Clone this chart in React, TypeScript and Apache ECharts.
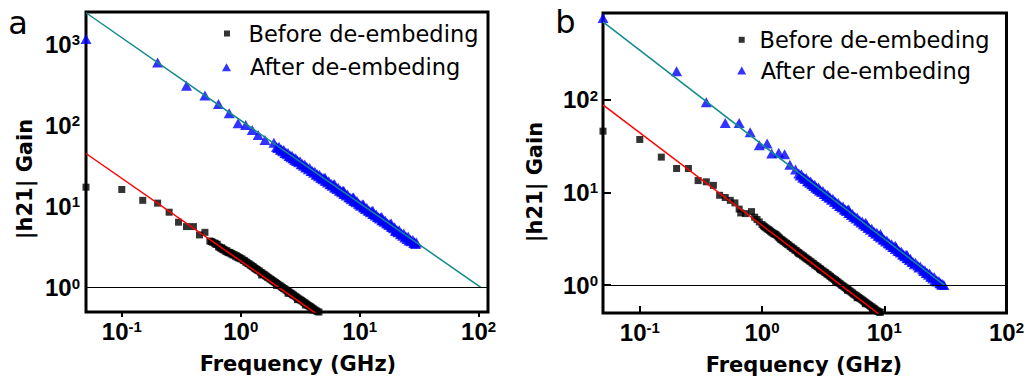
import React, { useEffect, useRef } from 'react';
import * as echarts from 'echarts';

const NAME_BEFORE = 'Before de-embeding';
const NAME_AFTER = 'After de-embeding';

// Panel a: [frequency GHz, |h21|]
const beforeA: number[][] = [
  [0.05, 17.3], [0.1, 16.2], [0.15, 11.9], [0.2, 11], [0.25, 8.5], [0.3, 6.4], [0.35, 5.65], [0.4, 5.65],
  [0.45, 4.46], [0.5, 4.8], [0.55, 3.75], [0.58, 3.62], [0.6, 3.55], [0.62, 3.4], [0.65, 3.18], [0.68, 3.05],
  [0.7, 2.99], [0.72, 2.92], [0.75, 2.78], [0.78, 2.72], [0.8, 2.68], [0.83, 2.6], [0.86, 2.52], [0.9, 2.44],
  [0.93, 2.38], [0.96, 2.32], [1.0, 2.27], [1.05, 2.17], [1.1, 2.07], [1.15, 1.98], [1.2, 1.9], [1.25, 1.82],
  [1.3, 1.75], [1.35, 1.68], [1.4, 1.62], [1.47, 1.54], [1.54, 1.47], [1.61, 1.4], [1.68, 1.34], [1.76, 1.28],
  [1.84, 1.22], [1.92, 1.17], [2.0, 1.125], [2.1, 1.07], [2.2, 1.02], [2.3, 0.975], [2.4, 0.935], [2.5, 0.895],
  [2.6, 0.86], [2.7, 0.83], [2.8, 0.8], [2.95, 0.76], [3.1, 0.72], [3.25, 0.69], [3.4, 0.655], [3.55, 0.63],
  [3.7, 0.6], [3.85, 0.58], [4.0, 0.555], [4.2, 0.53], [4.4, 0.505], [4.55, 0.5],
  [1.5, 1.43], [2.0, 1.06], [2.5, 0.85], [3.0, 0.71], [3.5, 0.61], [4.0, 0.53],
  [0.565, 3.7], [0.61, 3.5], [0.635, 3.42], [0.665, 3.15], [0.69, 3.1], [0.71, 2.98], [0.735, 2.9],
  [0.765, 2.85], [0.79, 2.72], [0.815, 2.7], [0.845, 2.62], [0.88, 2.55], [0.915, 2.48], [0.945, 2.4],
  [0.98, 2.33], [1.025, 2.25], [1.075, 2.15], [1.125, 2.05], [1.175, 1.96], [1.225, 1.88], [1.275, 1.8],
  [1.325, 1.72], [1.375, 1.66], [1.435, 1.6], [1.505, 1.52], [1.575, 1.45], [1.645, 1.38], [1.72, 1.32],
  [1.8, 1.26], [1.88, 1.2], [1.96, 1.15], [2.05, 1.1], [2.15, 1.05], [2.25, 1.0], [2.35, 0.96], [2.45, 0.92],
  [2.55, 0.88], [2.65, 0.85], [2.75, 0.815], [2.875, 0.78], [3.025, 0.74], [3.175, 0.705], [3.325, 0.675],
  [3.475, 0.645], [3.625, 0.615], [3.775, 0.59], [3.925, 0.57], [4.1, 0.545], [4.3, 0.52],
];
const afterA: number[][] = [
  [0.05, 1160], [0.2, 597], [0.35, 307], [0.5, 233], [0.65, 184], [0.8, 141], [0.95, 106], [1.1, 101],
  [1.25, 87.5], [1.4, 76], [1.6, 66], [1.9, 61], [2.0, 54], [2.1, 54.5], [2.2, 50.5], [2.3, 49.8],
  [2.4, 46.2], [2.5, 45.8], [2.6, 42.6], [2.7, 42.3], [2.8, 39.6], [2.9, 39.2], [3.0, 36.8], [3.15, 36.1],
  [3.3, 33.4], [3.45, 32.9], [3.6, 30.6], [3.8, 29.8], [4.0, 27.4], [4.2, 26.9], [4.4, 24.9], [4.6, 24.5],
  [4.8, 22.8], [5.0, 22.5], [5.25, 20.7], [5.5, 20.5], [5.75, 19.0], [6.0, 18.7], [6.3, 17.2], [6.6, 17.0],
  [6.9, 15.7], [7.2, 15.5], [7.5, 14.5], [7.9, 14.1], [8.3, 12.9], [8.7, 12.8], [9.1, 11.7], [9.5, 11.7],
  [10, 10.6], [10.5, 10.6], [11, 9.7], [11.5, 9.6], [12, 8.85], [12.6, 8.75], [13.2, 8.05], [13.8, 7.98],
  [14.4, 7.35], [15, 7.32], [15.7, 6.75], [16.4, 6.7], [17.2, 6.15], [18, 6.08], [18.8, 5.6], [19.7, 5.55],
  [20.6, 5.1], [21.5, 5.08], [22.5, 4.65], [23.5, 4.64], [24.5, 4.25], [25.6, 4.25], [26.8, 3.9], [28, 3.87],
  [29, 3.62], [30, 3.6],
  [8.5, 12.3], [9.3, 11.3], [10.2, 10.2], [11.2, 9.3], [20, 5.0], [21, 4.8], [22, 4.55], [23, 4.35],
  [24, 4.15], [25, 3.98], [26, 3.82], [27, 3.72], [28.5, 3.55], [29.5, 3.45],
  [2.05, 52.5], [2.15, 50.0], [2.25, 48.0], [2.35, 45.5], [2.45, 44], [2.55, 42], [2.65, 40.5], [2.75, 39],
  [2.85, 37.5], [2.95, 36.3], [3.07, 35], [3.22, 33.2], [3.37, 31.7], [3.52, 30.3], [3.7, 28.8], [3.9, 27.3],
  [4.1, 26], [4.3, 24.7], [4.5, 23.6], [4.7, 22.6], [4.9, 21.7], [5.12, 20.7], [5.37, 19.7], [5.62, 18.8],
  [5.87, 18.0], [6.15, 17.2], [6.45, 16.4], [6.75, 15.6], [7.05, 15.0], [7.35, 14.3], [7.7, 13.7],
  [8.1, 13.0], [8.9, 11.8], [9.75, 10.8], [10.75, 9.75], [11.75, 8.9], [12.3, 8.5], [12.9, 8.1],
  [13.5, 7.75], [14.1, 7.4], [14.7, 7.1], [15.35, 6.78], [16.05, 6.5], [16.8, 6.2], [17.6, 5.9],
  [18.4, 5.65], [19.25, 5.38], [20.15, 5.15], [21.05, 4.92],
  [5.12, 22.6], [6.15, 18.8], [7.35, 15.6], [8.9, 12.9], [10.75, 10.6], [12.9, 8.85], [15.35, 7.4], [18.4, 6.15],
];
const fitBeforeA: number[][] = [[0.05, 45], [4.4, 0.47]];
const fitAfterA: number[][] = [[0.05, 2447], [105, 1]];

// Panel b
const beforeB: number[][] = [
  [0.05, 45.7], [0.1, 37.2], [0.15, 24], [0.2, 18.1], [0.25, 18.1], [0.3, 13.4], [0.35, 13], [0.4, 11.9],
  [0.45, 9.3], [0.5, 8.8], [0.55, 8.2], [0.6, 7.7], [0.65, 6.6], [0.67, 6.0], [0.73, 5.9], [0.82, 6.2],
  [0.87, 5.4], [0.91, 5.1], [0.95, 4.8], [1.0, 4.5], [1.05, 4.25], [1.1, 4.05], [1.15, 3.9], [1.2, 3.72],
  [1.25, 3.58], [1.3, 3.5], [1.36, 3.3], [1.42, 3.12], [1.48, 3.0], [1.55, 2.86], [1.62, 2.74], [1.7, 2.6],
  [1.78, 2.49], [1.86, 2.38], [1.95, 2.27], [2.04, 2.17], [2.14, 2.07], [2.24, 1.98], [2.34, 1.9], [2.45, 1.82],
  [2.57, 1.73], [2.69, 1.65], [2.82, 1.58], [2.95, 1.51], [3.09, 1.44], [3.24, 1.38], [3.39, 1.32], [3.55, 1.26],
  [3.72, 1.2], [3.9, 1.15], [4.08, 1.1], [4.27, 1.05], [4.47, 1.0], [4.68, 0.96], [4.9, 0.92], [5.13, 0.88],
  [5.37, 0.84], [5.62, 0.8], [5.89, 0.77], [6.17, 0.735], [6.46, 0.705], [6.76, 0.675], [7.08, 0.645],
  [7.41, 0.615], [7.76, 0.59], [8.13, 0.565], [8.51, 0.54], [8.91, 0.52], [9.3, 0.51],
  [2.0, 2.2], [3.0, 1.47], [4.0, 1.1], [5.0, 0.88], [6.0, 0.73], [7.0, 0.63], [8.0, 0.55],
  [1.025, 4.35], [1.075, 4.15], [1.125, 3.98], [1.175, 3.8], [1.225, 3.65], [1.275, 3.55], [1.33, 3.4],
  [1.39, 3.22], [1.45, 3.08], [1.515, 2.95], [1.585, 2.82], [1.66, 2.7], [1.74, 2.57], [1.82, 2.46],
  [1.905, 2.35], [1.995, 2.24], [2.09, 2.14], [2.19, 2.05], [2.29, 1.95], [2.395, 1.87], [2.51, 1.79],
  [2.63, 1.71], [2.755, 1.63], [2.885, 1.56], [3.02, 1.49], [3.165, 1.42], [3.315, 1.36], [3.47, 1.3],
  [3.635, 1.24], [3.81, 1.18], [3.99, 1.13], [4.175, 1.08], [4.37, 1.03], [4.575, 0.985], [4.79, 0.94],
  [5.015, 0.9], [5.25, 0.86], [5.495, 0.82], [5.755, 0.785], [6.03, 0.75], [6.315, 0.72], [6.61, 0.69],
  [6.92, 0.66], [7.245, 0.63], [7.585, 0.605], [7.945, 0.58], [8.32, 0.555], [8.71, 0.53], [9.1, 0.51],
];
const afterB: number[][] = [
  [0.05, 761], [0.2, 202], [0.35, 94], [0.5, 56], [0.65, 56], [0.8, 44.5], [0.95, 32.3], [1.1, 33.6],
  [1.2, 26.2], [1.37, 26.7], [1.53, 25.7], [1.69, 19.9], [1.88, 17.7], [2.0, 16.0], [2.1, 15.7], [2.2, 14.5],
  [2.3, 14.3], [2.4, 13.3], [2.5, 13.1], [2.6, 12.2], [2.7, 12.1], [2.8, 11.3], [2.9, 11.25], [3.0, 10.55],
  [3.15, 10.35], [3.3, 9.6], [3.45, 9.42], [3.6, 8.8], [3.8, 8.55], [4.0, 7.9], [4.2, 7.7], [4.4, 7.15],
  [4.6, 7.02], [4.8, 6.55], [5.0, 6.45], [5.25, 5.98], [5.5, 5.85], [5.75, 5.45], [6.0, 5.35], [6.3, 4.96],
  [6.6, 4.86], [6.9, 4.52], [7.2, 4.45], [7.5, 4.15], [7.9, 4.04], [8.3, 3.74], [8.7, 3.66], [9.1, 3.41],
  [9.5, 3.35], [10, 3.1], [10.5, 3.03], [11, 2.81], [11.5, 2.76], [12, 2.57], [12.6, 2.52], [13.2, 2.33],
  [13.8, 2.29], [14.4, 2.14], [15, 2.1], [15.7, 1.95], [16.4, 1.92], [17.2, 1.77], [18, 1.74], [18.8, 1.63],
  [19.7, 1.59], [20.6, 1.48], [21.5, 1.45], [22.5, 1.35], [23.5, 1.33], [24.5, 1.24], [25.6, 1.22],
  [26.8, 1.13], [28, 1.11], [29, 1.04], [30, 1.03],
  [17.6, 1.68], [19.2, 1.55], [21, 1.42], [22, 1.35], [23, 1.29], [24, 1.23], [25, 1.18], [26, 1.13],
  [27, 1.09], [28.5, 1.05], [29.5, 1.01], [30.8, 1.0],
  [2.05, 15.2], [2.15, 14.5], [2.25, 13.9], [2.35, 13.2], [2.45, 12.7], [2.55, 12.2], [2.65, 11.7],
  [2.75, 11.3], [2.85, 10.9], [2.95, 10.5], [3.07, 10.1], [3.22, 9.6], [3.37, 9.15], [3.52, 8.8], [3.7, 8.35],
  [3.9, 7.9], [4.1, 7.5], [4.3, 7.15], [4.5, 6.85], [4.7, 6.55], [4.9, 6.28], [5.12, 6.0], [5.37, 5.7],
  [5.62, 5.45], [5.87, 5.22], [6.15, 4.98], [6.45, 4.74], [6.75, 4.53], [7.05, 4.33], [7.35, 4.15],
  [7.7, 3.96], [8.1, 3.76], [8.5, 3.57], [8.9, 3.41], [9.3, 3.27], [9.75, 3.1], [10.25, 2.95], [10.75, 2.82],
  [11.25, 2.69], [11.75, 2.57], [12.3, 2.45], [12.9, 2.34], [13.5, 2.24], [14.1, 2.14], [14.7, 2.05],
  [15.35, 1.96], [16.05, 1.87], [16.8, 1.79],
  [5.12, 6.55], [7.05, 4.7], [9.3, 3.55], [12.3, 2.66], [15.35, 2.12],
];
const fitBeforeB: number[][] = [[0.05, 88], [9, 0.49]];
const fitAfterB: number[][] = [[0.05, 690], [31, 1]];

const unityGain = 1;

const TEAL = '#108a8a';
const tickFont = 'Liberation Sans';

const richLabel = {
  b: { fontSize: 24, fontWeight: 'bold', fontFamily: tickFont, color: '#000', lineHeight: 24, verticalAlign: 'middle' },
  s: { fontSize: 15, fontWeight: 'bold', fontFamily: tickFont, color: '#000', lineHeight: 15, verticalAlign: 'top', padding: [0, 0, 19, 0] },
};
const powLabel = (v: number) => {
  const e = Math.round(Math.log10(v));
  return `{b|10}{s|${e}}`;
};

function makeAxis(grid: number, min: number, max: number, tick: any, margin: number, showMax = false) {
  return {
    gridIndex: grid,
    type: 'log',
    logBase: 10,
    min,
    max,
    axisLine: { show: false },
    axisTick: tick,
    splitLine: { show: false },
    minorTick: { show: false },
    axisLabel: {
      formatter: powLabel, rich: richLabel, margin, showMinLabel: false, showMaxLabel: showMax,
      fontSize: 24, fontWeight: 'bold', fontFamily: tickFont, color: '#000',
    },
  };
}

function legendItem(name: string, icon: string, left: number, top: number, w: number, h: number, gap: number) {
  return {
    data: [{ name, icon }],
    left,
    top,
    orient: 'vertical',
    padding: 0,
    itemWidth: w,
    itemHeight: h,
    selectedMode: false,
    formatter: (n: string) => `{g| }${n}`,
    textStyle: { fontFamily: 'DejaVu Sans', fontSize: 22.5, color: '#000', rich: { g: { width: gap } } },
  };
}

function panelSeries(xi: number, before: number[][], after: number[][], fitB: number[][], fitA: number[][]) {
  return [
    {
      name: NAME_BEFORE, type: 'scatter', xAxisIndex: xi, yAxisIndex: xi, symbol: 'rect', symbolSize: 7,
      itemStyle: { color: '#000' }, data: before,
      markLine: {
        silent: true, symbol: ['none', 'none'], label: { show: false },
        lineStyle: { color: '#000', width: 1, type: 'solid' }, data: [{ yAxis: unityGain }],
      },
    },
    {
      name: NAME_AFTER, type: 'scatter', xAxisIndex: xi, yAxisIndex: xi, symbol: 'triangle', symbolSize: [11, 10],
      itemStyle: { color: '#0000ff' }, data: after,
    },
    {
      type: 'line', xAxisIndex: xi, yAxisIndex: xi, data: fitB, showSymbol: false, symbol: 'none',
      lineStyle: { color: '#ff0000', width: 1.5 }, silent: true,
    },
    {
      type: 'line', xAxisIndex: xi, yAxisIndex: xi, data: fitA, showSymbol: false, symbol: 'none',
      lineStyle: { color: TEAL, width: 1.5 }, silent: true,
    },
  ];
}

export default function App() {
  const ref = useRef<HTMLDivElement>(null);
  useEffect(() => {
    document.body.style.margin = '0';
    if (!ref.current) return;
    const chart = echarts.init(ref.current, undefined, { renderer: 'svg' });
    const tickOutA = { show: true, inside: false, length: 5, lineStyle: { color: '#000', width: 2 } };
    const noTick = { show: false };
    const tickInB = { show: true, inside: true, length: 7, lineStyle: { color: '#000', width: 2 } };
    const tickInBy = { show: true, inside: true, length: 8, lineStyle: { color: '#000', width: 2 } };
    const titleStyle = { fontFamily: 'DejaVu Sans', fontWeight: 'bold', fontSize: 21, fill: '#000', align: 'center', verticalAlign: 'middle', textAlign: 'center', textVerticalAlign: 'middle' };
    const option: any = {
      animation: false,
      backgroundColor: '#fff',
      grid: [
        { left: 86, top: 12, width: 402, height: 300, show: true, borderColor: '#000', borderWidth: 3, backgroundColor: 'transparent' },
        { left: 603, top: 13, width: 403.5, height: 300, show: true, borderColor: '#000', borderWidth: 3, backgroundColor: 'transparent' },
      ],
      xAxis: [makeAxis(0, 0.05, 120, tickOutA, 7), makeAxis(1, 0.05, 100, tickInB, 7, true)],
      yAxis: [makeAxis(0, 0.5, 2500, noTick, 6), makeAxis(1, 0.5, 860, tickInBy, 5)],
      legend: [
        legendItem(NAME_BEFORE, 'rect', 224, 22, 6, 6, 13.5),
        legendItem(NAME_AFTER, 'triangle', 222, 55.7, 9, 8, 14),
        legendItem(NAME_BEFORE, 'rect', 738.7, 28.3, 6, 6, 9.8),
        legendItem(NAME_AFTER, 'triangle', 737.2, 59, 9, 8, 9.5),
      ],
      graphic: [
        { type: 'text', x: 18, y: 23, style: { text: 'a', fontFamily: 'DejaVu Sans', fontSize: 32, fill: '#000', align: 'center', verticalAlign: 'middle', textAlign: 'center', textVerticalAlign: 'middle' } },
        { type: 'text', x: 565.5, y: 22, style: { text: 'b', fontFamily: 'DejaVu Sans', fontSize: 32, fill: '#000', align: 'center', verticalAlign: 'middle', textAlign: 'center', textVerticalAlign: 'middle' } },
        { type: 'text', x: 298, y: 364, style: { text: 'Frequency (GHz)', ...titleStyle } },
        { type: 'text', x: 804, y: 365, style: { text: 'Frequency (GHz)', ...titleStyle } },
        { type: 'text', x: 25, y: 179, rotation: Math.PI / 2, style: { text: '|h21| Gain', ...titleStyle } },
        { type: 'text', x: 535, y: 182, rotation: Math.PI / 2, style: { text: '|h21| Gain', ...titleStyle } },
      ],
      series: [
        ...panelSeries(0, beforeA, afterA, fitBeforeA, fitAfterA),
        ...panelSeries(1, beforeB, afterB, fitBeforeB, fitAfterB),
      ],
    };
    chart.setOption(option);
    return () => chart.dispose();
  }, []);
  return <div ref={ref} style={{ width: 1027, height: 383 }} />;
}
